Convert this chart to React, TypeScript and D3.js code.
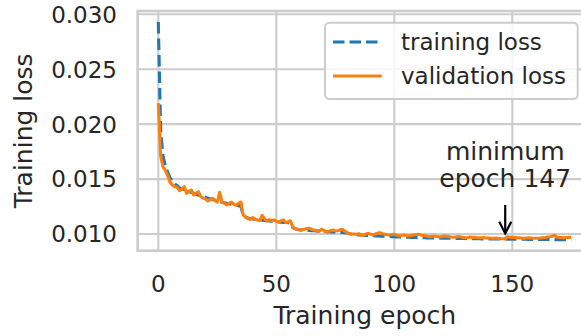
import React from "react";
import * as d3 from "d3";

// Per-epoch losses, epochs 0..175
const trainingLoss = [
  0.0293, 0.0194, 0.0171, 0.0162, 0.0156, 0.0151, 0.0148, 0.01455, 0.0144, 0.0142,
  0.0141, 0.01405, 0.0139, 0.01385, 0.0138, 0.0137, 0.01362, 0.01355, 0.01348, 0.0134,
  0.01335, 0.01325, 0.0132, 0.01315, 0.01308, 0.013, 0.01296, 0.0129, 0.01285, 0.0128,
  0.01276, 0.0127, 0.01266, 0.01262, 0.01258, 0.01252, 0.01168, 0.01152, 0.01145, 0.0114,
  0.01137, 0.01134, 0.0113, 0.01128, 0.01126, 0.01124, 0.0112, 0.01118, 0.01116, 0.01114,
  0.01112, 0.0111, 0.01108, 0.01106, 0.01104, 0.01102, 0.011, 0.01058, 0.01048, 0.01042,
  0.01038, 0.01037, 0.01035, 0.01034, 0.01032, 0.0103, 0.01029, 0.01027, 0.01026, 0.01024,
  0.01023, 0.01021, 0.0102, 0.01019, 0.01018, 0.01016, 0.01015, 0.01014, 0.01013, 0.01011,
  0.0101, 0.01002, 0.00998, 0.00995, 0.00993, 0.00991, 0.0099, 0.00988, 0.00987, 0.00986,
  0.00985, 0.00984, 0.00983, 0.00982, 0.00981, 0.0098, 0.00979, 0.00978, 0.00977, 0.00976,
  0.00975, 0.00974, 0.00973, 0.00972, 0.00971, 0.00971, 0.0097, 0.00969, 0.00969, 0.00968,
  0.00967, 0.00967, 0.00966, 0.00966, 0.00965, 0.00965, 0.00964, 0.00964, 0.00963, 0.00963,
  0.00962, 0.00962, 0.00961, 0.00961, 0.00961, 0.0096, 0.0096, 0.0096, 0.00959, 0.00959,
  0.00959, 0.00958, 0.00958, 0.00958, 0.00957, 0.00957, 0.00957, 0.00956, 0.00956, 0.00956,
  0.00955, 0.00955, 0.00955, 0.00955, 0.00954, 0.00954, 0.00954, 0.00954, 0.00953, 0.00953,
  0.00953, 0.00953, 0.00952, 0.00952, 0.00952, 0.00952, 0.00952, 0.00951, 0.00951, 0.00951,
  0.00951, 0.00951, 0.0095, 0.0095, 0.0095, 0.0095, 0.0095, 0.0095, 0.00949, 0.00949,
  0.00949, 0.00949, 0.00949, 0.00949, 0.00948, 0.00948,
];

const validationLoss = [
  0.0219, 0.0171, 0.0161, 0.0158, 0.0153, 0.0147, 0.01445, 0.0143, 0.01425, 0.01395,
  0.0141, 0.0143, 0.0137, 0.0139, 0.014, 0.01355, 0.0137, 0.01385, 0.0134, 0.01325,
  0.0132, 0.013, 0.01315, 0.01325, 0.01305, 0.0129, 0.0138, 0.0129, 0.0128, 0.01265,
  0.0128, 0.0129, 0.0127, 0.01262, 0.0128, 0.0129, 0.0117, 0.01155, 0.0114, 0.01132,
  0.0115, 0.01135, 0.01128, 0.01122, 0.0117, 0.0114, 0.01118, 0.0113, 0.01122, 0.01128,
  0.01115, 0.0111, 0.0112, 0.01128, 0.01105, 0.01112, 0.0112, 0.0106, 0.0105, 0.01042,
  0.01036, 0.0104, 0.01043, 0.0105, 0.01052, 0.01042, 0.01036, 0.01032, 0.01021, 0.01043,
  0.01035, 0.01022, 0.01021, 0.0103, 0.01036, 0.01028, 0.0103, 0.01038, 0.01043, 0.01025,
  0.01012, 0.01002, 0.01, 0.01, 0.00995, 0.01004, 0.00985, 0.00991, 0.01, 0.01006,
  0.00998, 0.00991, 0.01, 0.01008, 0.01012, 0.01003, 0.00997, 0.00993, 0.00991, 0.00995,
  0.00997, 0.0099, 0.00982, 0.00987, 0.00991, 0.00986, 0.00982, 0.00985, 0.00991, 0.00994,
  0.00997, 0.00993, 0.00987, 0.00985, 0.0098, 0.00975, 0.00979, 0.00982, 0.00978, 0.00975,
  0.00976, 0.00981, 0.00982, 0.00976, 0.00972, 0.0097, 0.00973, 0.00976, 0.00975, 0.00969,
  0.00966, 0.00968, 0.00972, 0.00969, 0.0097, 0.00967, 0.00966, 0.00966, 0.00968, 0.00964,
  0.00963, 0.00962, 0.00961, 0.00963, 0.0096, 0.00958, 0.00957, 0.00955, 0.00975, 0.0097,
  0.00971, 0.00969, 0.00967, 0.00966, 0.00963, 0.00961, 0.00963, 0.00965, 0.00964, 0.00962,
  0.00961, 0.00961, 0.00964, 0.00966, 0.00968, 0.00972, 0.00975, 0.0098, 0.00988, 0.0097,
  0.00968, 0.00967, 0.00966, 0.00968, 0.0097, 0.00969,
];

const xTicks = [0, 50, 100, 150];
const yTicks = [0.01, 0.015, 0.02, 0.025, 0.03];
const minEpoch = 147;

const W = 581;
const H = 336;
const frame = { left: 137.65, right: 591.95, top: 11, bottom: 250.7 };
const FONT = "DejaVu Sans, sans-serif";
const TEXT = "#262626";
const GRID = "#cccccc";

export default function App() {
  const x = d3.scaleLinear().domain([-8.75, 183.75]).range([frame.left, frame.right]);
  const y = d3.scaleLinear().domain([0.00848, 0.0303]).range([frame.bottom, frame.top]);
  const line = d3
    .line<number>()
    .x((_, i) => x(i))
    .y((d) => y(d));

  const ax = x(minEpoch);
  const tipY = y(validationLoss[minEpoch]) - 5.5;

  return (
    <svg
      width={W}
      height={H}
      style={{ position: "absolute", left: 0, top: 0, background: "#fff" }}
      fontFamily={FONT}
    >
      <defs>
        <clipPath id="plot-clip">
          <rect x={frame.left} y={frame.top} width={frame.right - frame.left} height={frame.bottom - frame.top} />
        </clipPath>
      </defs>

      {/* grid */}
      {xTicks.map((t) => (
        <line key={"gx" + t} x1={x(t)} x2={x(t)} y1={frame.top} y2={frame.bottom} stroke={GRID} strokeWidth={2.1} />
      ))}
      {yTicks.map((t) => (
        <line key={"gy" + t} x1={frame.left} x2={frame.right} y1={y(t)} y2={y(t)} stroke={GRID} strokeWidth={2.1} />
      ))}

      {/* frame */}
      <rect
        x={frame.left}
        y={frame.top}
        width={frame.right - frame.left}
        height={frame.bottom - frame.top}
        fill="none"
        stroke={GRID}
        strokeWidth={2.6}
      />

      {/* series */}
      <g clipPath="url(#plot-clip)" fill="none" strokeLinejoin="round">
        <path d={line(trainingLoss) ?? ""} stroke="#1f77b4" strokeWidth={3.1} strokeDasharray="11.5 5" />
        <path d={line(validationLoss) ?? ""} stroke="#ff7f0e" strokeWidth={3.1} />
      </g>

      {/* tick labels */}
      {xTicks.map((t) => (
        <text key={"tx" + t} x={x(t)} y={291.7} textAnchor="middle" fontSize={23} fill={TEXT}>
          {t}
        </text>
      ))}
      {yTicks.map((t) => (
        <text key={"ty" + t} x={117} y={y(t) + 8.4} textAnchor="end" fontSize={23} fill={TEXT}>
          {d3.format(".3f")(t)}
        </text>
      ))}

      {/* axis labels */}
      <text x={(frame.left + frame.right) / 2} y={324.3} textAnchor="middle" fontSize={25} fill={TEXT}>
        Training epoch
      </text>
      <text
        transform={`translate(32,${(frame.top + frame.bottom) / 2}) rotate(-90)`}
        textAnchor="middle"
        fontSize={25}
        fill={TEXT}
      >
        Training loss
      </text>

      {/* legend */}
      <g>
        <rect x={325} y={22.7} width={252.7} height={76.3} rx={4.5} fill="#fff" fillOpacity={0.8} stroke={GRID} strokeWidth={2} />
        <line x1={333} x2={381.7} y1={42} y2={42} stroke="#1f77b4" strokeWidth={3.1} strokeDasharray="11.5 5" />
        <line x1={333} x2={381.7} y1={76} y2={76} stroke="#ff7f0e" strokeWidth={3.1} />
        <text x={401} y={50} fontSize={23} fill={TEXT}>
          training loss
        </text>
        <text x={401} y={84} fontSize={23} fill={TEXT}>
          validation loss
        </text>
      </g>

      {/* minimum annotation */}
      <g>
        <text x={ax} y={160} textAnchor="middle" fontSize={25} fill={TEXT}>
          minimum
        </text>
        <text x={ax} y={187.3} textAnchor="middle" fontSize={25} fill={TEXT}>
          {`epoch ${minEpoch}`}
        </text>
        <line x1={ax} x2={ax} y1={205} y2={tipY} stroke="#000" strokeWidth={2.2} />
        <path
          d={`M${ax - 6},${tipY - 11.7} L${ax},${tipY} L${ax + 6},${tipY - 11.7}`}
          fill="none"
          stroke="#000"
          strokeWidth={2.2}
        />
      </g>
    </svg>
  );
}
